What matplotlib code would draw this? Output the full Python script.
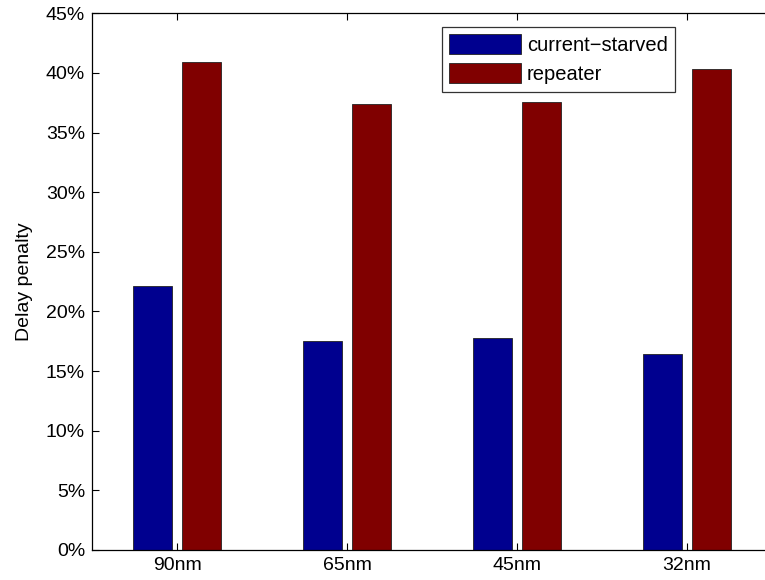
import matplotlib
matplotlib.use("Agg")
import matplotlib.pyplot as plt
import numpy as np
from matplotlib.ticker import FuncFormatter
from matplotlib.legend_handler import HandlerPatch
from matplotlib.patches import Rectangle

nodes = ["90nm", "65nm", "45nm", "32nm"]
current_starved = [22.15, 17.5, 17.8, 16.4]
repeater = [40.9, 37.4, 37.6, 40.3]
series_names = ["current\u2212starved", "repeater"]
yticks = [0, 5, 10, 15, 20, 25, 30, 35, 40, 45]

plt.rcParams["font.family"] = ["Liberation Sans", "DejaVu Sans"]
FS = 14

fig = plt.figure(figsize=(7.65, 5.8), dpi=100)
ax = fig.add_axes([92 / 765, 30 / 580, 680 / 765, 536.7 / 580])

x = np.arange(1, len(nodes) + 1)
offset = 0.143
width = 0.2286
ax.bar(x - offset, current_starved, width, color="#00008F", edgecolor="#222222",
       linewidth=0.6, label=series_names[0])
ax.bar(x + offset, repeater, width, color="#800000", edgecolor="#222222",
       linewidth=0.6, label=series_names[1])

ax.set_xlim(0.5, 4.5)
ax.set_ylim(0, 45)
ax.set_xticks(x)
ax.set_xticklabels(nodes)
ax.set_yticks(yticks)
ax.yaxis.set_major_formatter(FuncFormatter(lambda v, p: f"{v:.0f}%"))
ax.tick_params(direction="in", length=5, width=0.8, top=True, right=True,
               labelsize=FS, pad=5, colors="black")
for s in ax.spines.values():
    s.set_linewidth(0.9)
ax.set_ylabel("Delay penalty", fontsize=FS, labelpad=9)

LFS = 14.5
leg = ax.legend(loc="upper left", bbox_to_anchor=(441.7 / 765, 1 - 26.7 / 580),
                bbox_transform=fig.transFigure, fontsize=LFS, frameon=True,
                fancybox=False, edgecolor="black", handlelength=3.55,
                handleheight=1.15, borderpad=0.38, labelspacing=0.4,
                handletextpad=0.3, borderaxespad=0,
                handler_map={Rectangle: HandlerPatch(xpad=0.3)})
leg.get_frame().set_linewidth(0.9)

fig.savefig("out.png", dpi=100)
